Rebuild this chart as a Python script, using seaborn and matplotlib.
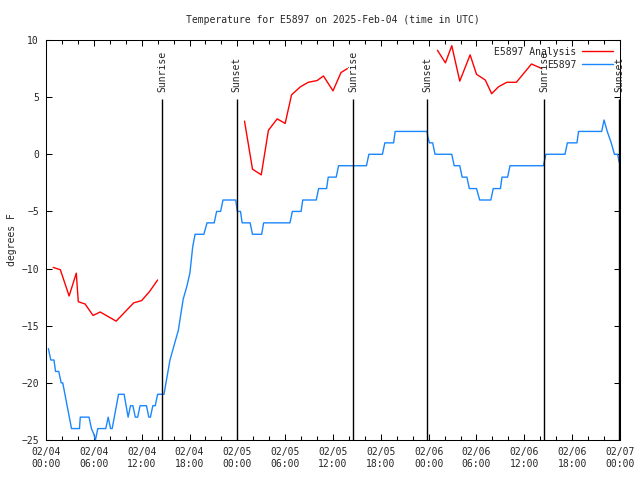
import pandas as pd
import seaborn as sns
import matplotlib.pyplot as plt
from matplotlib.lines import Line2D

# hours since 2025-02-04 00:00 UTC
obs_hours = [0.3, 0.6, 1.0, 1.2, 1.6, 1.9, 2.1, 3.2, 4.2, 4.3, 5.4, 5.7, 6.0, 6.2, 6.5, 7.5,
             7.8, 8.1, 8.3, 9.1, 9.8, 10.3, 10.6, 10.9, 11.2, 11.5, 11.8, 12.6, 12.9, 13.1,
             13.4, 13.7, 14.0, 14.8, 15.55, 16.6, 17.2, 17.65, 18.05, 18.4, 18.7, 19.8, 20.2,
             21.1, 21.4, 21.9, 22.2, 23.8, 24.0, 24.4, 24.6, 25.6, 25.9, 27.05, 27.3, 30.6,
             30.9, 32.0, 32.2, 33.9, 34.2, 35.2, 35.4, 36.4, 36.7, 40.2, 40.5, 42.2, 42.5,
             43.6, 43.8, 47.8, 47.9, 48.1, 48.5, 48.8, 50.9, 51.2, 51.9, 52.2, 52.8, 53.1,
             54.0, 54.4, 55.8, 56.1, 57.0, 57.2, 57.9, 58.2, 62.4, 62.7, 65.1, 65.4, 66.6,
             66.8, 69.7, 70.0, 70.2, 70.4, 70.9, 71.3, 71.7, 71.9]
obs_temps = [-17, -18, -18, -19, -19, -20, -20, -24, -24, -23, -23, -24, -24.5, -25, -24, -24,
             -23, -24, -24, -21, -21, -23, -22, -22, -23, -23, -22, -22, -23, -23,
             -22, -22, -21, -21, -18, -15.4, -12.7, -11.6, -10.4, -8.1, -7, -7, -6,
             -6, -5, -5, -4, -4, -5, -5, -6, -6, -7, -7, -6, -6,
             -5, -5, -4, -4, -3, -3, -2, -2, -1, -1, 0, 0, 1,
             1, 2, 2, 1.5, 1, 1, 0, 0, -1, -1, -2, -2, -3,
             -3, -4, -4, -3, -3, -2, -2, -1, -1, 0, 0, 1, 1,
             2, 2, 3, 2.5, 2, 1, 0, 0, -0.7]

ana_hours = [[0.9, 1.8, 2.9, 3.8, 4.05, 4.9, 5.9, 6.8, 8.8, 9.9, 11.0, 12.0, 13.0, 14.0],
             [24.9, 25.9, 27.0, 27.9, 29.0, 30.0, 30.8, 31.9, 32.9, 34.0, 34.8, 36.0, 37.0, 37.8],
             [49.1, 50.1, 50.9, 51.9, 53.2, 54.0, 55.1, 55.9, 56.75, 57.8, 59.0, 60.9, 62.2]]
ana_temps = [[-9.9, -10.1, -12.4, -10.4, -12.9, -13.1, -14.1, -13.8, -14.6, -13.8, -13.0, -12.8, -12.0, -11.0],
             [2.9, -1.3, -1.8, 2.1, 3.1, 2.7, 5.2, 5.9, 6.3, 6.45, 6.85, 5.55, 7.15, 7.5],
             [9.1, 8.0, 9.5, 6.4, 8.7, 7.0, 6.5, 5.3, 5.9, 6.3, 6.3, 7.9, 7.5]]

sun_hours = [14.6, 23.9, 38.55, 47.85, 62.5, 71.9]
sun_labels = ["Sunrise", "Sunset", "Sunrise", "Sunset", "Sunrise", "Sunset"]

tick_hours = list(range(0, 73, 6))
tick_labels = ["02/04\n00:00", "02/04\n06:00", "02/04\n12:00", "02/04\n18:00",
               "02/05\n00:00", "02/05\n06:00", "02/05\n12:00", "02/05\n18:00",
               "02/06\n00:00", "02/06\n06:00", "02/06\n12:00", "02/06\n18:00",
               "02/07\n00:00"]

red = "#ff0000"
blue = "#1a87ff"

rows = []
for seg, (hs, ts) in enumerate(zip(ana_hours, ana_temps)):
    for h, t in zip(hs, ts):
        rows.append({"hour": h, "temp": t, "series": "E5897 Analysis", "seg": seg})
for h, t in zip(obs_hours, obs_temps):
    rows.append({"hour": h, "temp": t, "series": "E5897", "seg": 10})
df = pd.DataFrame(rows)

sns.set_style("ticks")
plt.rcParams["font.family"] = ["DejaVu Sans Mono"]
plt.rcParams["font.size"] = 7

fig = plt.figure(figsize=(6.4, 4.8), dpi=100)
ax = fig.add_axes([46 / 640, 1 - 440 / 480, 574 / 640, 400 / 480])

sns.lineplot(data=df, x="hour", y="temp", hue="series", units="seg", estimator=None,
             palette={"E5897 Analysis": red, "E5897": blue}, linewidth=1.0,
             legend=False, ax=ax)

# sunrise / sunset markers
ax.vlines(sun_hours, -25, 4.84, color="black", linewidth=1.0)
for h, lab in zip(sun_hours, sun_labels):
    ax.text(h, 5.45, lab, rotation=90, ha="center", va="bottom", fontsize=7, clip_on=False)

ax.set_xlim(0, 72)
ax.set_ylim(-25, 10)
ax.set_xticks(tick_hours)
ax.set_xticklabels(tick_labels)
ax.set_xticks(range(0, 73, 2), minor=True)
ax.set_yticks(range(-25, 11, 5))
ax.tick_params(axis="both", which="both", direction="in", top=True, right=True,
               labelsize=7, width=0.75, color="black")
ax.tick_params(axis="x", which="major", length=4, pad=5)
ax.tick_params(axis="x", which="minor", length=3)
ax.tick_params(axis="y", which="major", length=4.5, pad=5)
for sp in ax.spines.values():
    sp.set_linewidth(0.75)
    sp.set_color("black")

ax.set_xlabel("")
ax.set_ylabel("degrees F", fontsize=7, labelpad=3)
ax.set_title("Temperature for E5897 on 2025-Feb-04 (time in UTC)", fontsize=7, pad=12)

handles = [Line2D([], [], color=red, linewidth=1.0), Line2D([], [], color=blue, linewidth=1.0)]
ax.legend(handles, ["E5897 Analysis", "E5897"], loc="upper right", frameon=False,
          markerfirst=False, handlelength=3.2, handletextpad=0.6, labelspacing=0.3,
          borderaxespad=0.3, fontsize=7)

fig.savefig("out.png", dpi=100)
